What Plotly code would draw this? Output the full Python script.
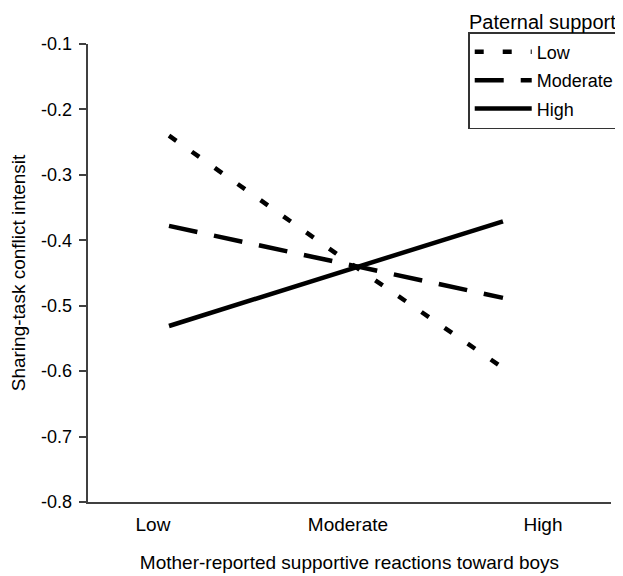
import plotly.graph_objects as go

categories = ["Low", "Moderate", "High"]
series_names = ["Low", "Moderate", "High"]
low_support = [-0.24, -0.42, -0.595]
moderate_support = [-0.378, -0.433, -0.488]
high_support = [-0.531, -0.451, -0.371]
y_ticks = [-0.8, -0.7, -0.6, -0.5, -0.4, -0.3, -0.2, -0.1]

FONT = "Arial, 'Liberation Sans', sans-serif"
dashes = ["9px,19px", "29px,17px", "solid"]
values = [low_support, moderate_support, high_support]

fig = go.Figure()
for name, vals, dash in zip(series_names, values, dashes):
    fig.add_trace(go.Scatter(
        x=categories, y=vals, mode="lines", name=name, legendgroup=name,
        line=dict(color="black", width=4.5, dash=dash),
        xaxis="x", yaxis="y",
    ))

# invisible carrier trace so the labelled category axis is drawn
fig.add_trace(go.Scatter(
    x=list(range(len(categories))), y=[None] * len(categories),
    mode="markers", showlegend=False, hoverinfo="skip",
    marker=dict(opacity=0), xaxis="x2", yaxis="y",
))

fig.update_layout(
    width=615, height=568,
    margin=dict(l=80, r=12, t=36, b=74, autoexpand=False),
    paper_bgcolor="white", plot_bgcolor="white",
    font=dict(family=FONT, size=19, color="black"),
    showlegend=True,
    legend=dict(
        x=0.727, y=1.026, xanchor="left", yanchor="top",
        bordercolor="#333333", borderwidth=1.5, bgcolor="white",
        font=dict(family=FONT, size=18, color="black"),
        tracegroupgap=2, itemwidth=57,
    ),
    xaxis=dict(
        type="category", range=[-0.485, 2.647], automargin=False,
        showticklabels=False, showline=False, showgrid=False, zeroline=False, ticks="",
    ),
    xaxis2=dict(
        overlaying="x", anchor="y", side="bottom", automargin=False,
        range=[-0.333, 2.349],
        tickmode="array", tickvals=list(range(len(categories))), ticktext=categories,
        showline=True, linecolor="#404040", linewidth=1.5,
        showgrid=False, zeroline=False,
        ticks="outside", ticklen=4, tickcolor="rgba(0,0,0,0)",
        tickfont=dict(family=FONT, size=19, color="black"),
        title=dict(text="Mother-reported supportive reactions toward boys",
                   font=dict(family=FONT, size=19, color="black"), standoff=22),
    ),
    yaxis=dict(
        range=[-0.8, -0.1], automargin=False,
        tickmode="array", tickvals=y_ticks,
        ticktext=[f"{v:.1f}\u2009" for v in y_ticks],
        showline=True, linecolor="#404040", linewidth=1.5,
        ticks="outside", ticklen=7, tickcolor="#404040", tickwidth=1.5,
        showgrid=False, zeroline=False,
        tickfont=dict(family=FONT, size=18, color="black"),
        title=dict(text="Sharing-task conflict intensit",
                   font=dict(family=FONT, size=19, color="black"), standoff=11),
    ),
    annotations=[dict(
        text="Paternal support", xref="paper", yref="paper",
        x=0.725, y=1.048, xanchor="left", yanchor="middle", showarrow=False,
        font=dict(family=FONT, size=20, color="black"),
    )],
)

fig.write_html("out.html")
